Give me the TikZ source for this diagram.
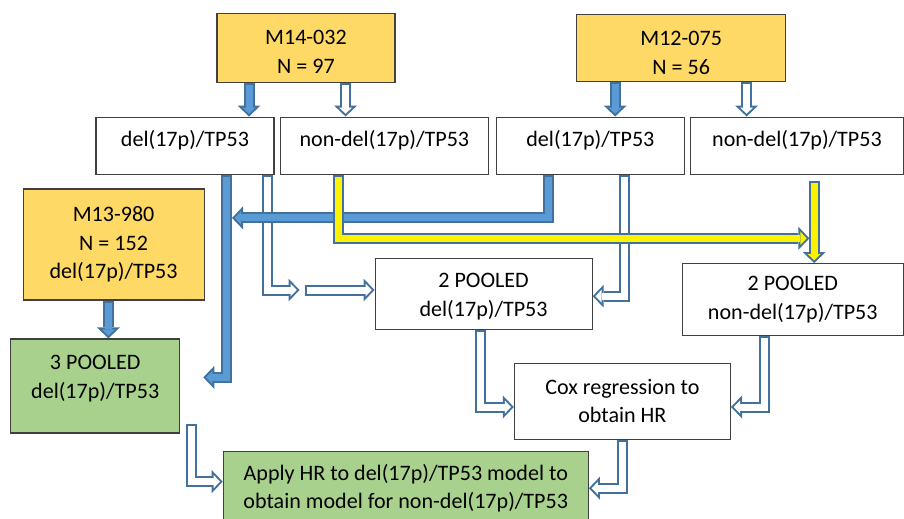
\documentclass[tikz,border=0pt]{standalone}
\usepackage{fontspec}
\setmainfont{Carlito}
\usetikzlibrary{arrows.meta,positioning}

\definecolor{studyfill}{RGB}{255,217,102}
\definecolor{poolfill}{RGB}{169,209,142}
\definecolor{boxline}{RGB}{64,64,64}
\definecolor{arrowedge}{RGB}{65,113,156}
\definecolor{arrowblue}{RGB}{91,155,213}

\begin{document}
\begin{tikzpicture}[on grid, box/.style={rectangle, draw=boxline, line width=0.3mm, inner sep=0pt, align=center, font=\fontsize{15.7}{20.3}\selectfont}, study/.style={box, fill=studyfill}, pooled/.style={box, fill=poolfill}, oneline/.style={box, text depth=3.4mm}, blockarrow/.style={line width=2.75mm, draw=arrowedge, -{Triangle[length=2.75mm, width=5.75mm, line width=0pt]}, postaction={draw=#1, line width=1.75mm, shorten <=0.5mm, shorten >=0.69mm, -{Triangle[length=1.56mm, width=3.26mm, line width=0pt]}}}, solidarrow/.style={blockarrow=arrowblue}, hollowarrow/.style={blockarrow=white}, yellowarrow/.style={blockarrow=yellow}]

  \useasboundingbox (0,0) rectangle (226mm,-129.5mm);

  \node[study, text height=12.75mm, text depth=0mm, minimum width=44.5mm, minimum height=17.25mm] (m14) at (76.5mm,-11.9mm) {M14-032\\N = 97};
  \node[study, text height=13.35mm, text depth=0mm, right=93.8mm of m14, minimum width=52.25mm, minimum height=16.75mm] (m12) {M12-075\\N = 56};

  \node[oneline, below left=24.5mm and 30.25mm of m14, minimum width=44.5mm, minimum height=14.25mm] (delA) {del(17p)/TP53};
  \node[oneline, right=49.85mm of delA, minimum width=52mm, minimum height=14.25mm] (nondelA) {non-del(17p)/TP53};
  \node[oneline, right=51.5mm of nondelA, minimum width=47mm, minimum height=14.25mm] (delB) {del(17p)/TP53};
  \node[oneline, right=51.65mm of delB, minimum width=53.25mm, minimum height=14.25mm] (nondelB) {non-del(17p)/TP53};

  \node[study, below left=24.7mm and 17.85mm of delA, minimum width=45.25mm, minimum height=27.75mm] (m13) {M13-980\\N = 152\\del(17p)/TP53};
  \node[pooled, text height=12mm, text depth=5.9mm, below left=35.4mm and 4.6mm of m13, minimum width=42.25mm, minimum height=23.5mm] (pool3) {3 POOLED\\del(17p)/TP53};

  \node[box, text height=12mm, text depth=0.9mm, below left=37.05mm and 26.7mm of delB, minimum width=54.25mm, minimum height=17.75mm] (pool2d) {2 POOLED\\del(17p)/TP53};
  \node[box, below left=38.5mm and 1.05mm of nondelB, minimum width=55.25mm, minimum height=18mm] (pool2n) {2 POOLED\\non-del(17p)/TP53};
  \node[box, below right=26.85mm and 34.7mm of pool2d, minimum width=54mm, minimum height=19mm] (cox) {Cox regression to\\obtain HR};
  \node[pooled, below left=21.75mm and 54.15mm of cox, minimum width=91.25mm, minimum height=18.25mm] (apply) {Apply HR to del(17p)/TP53 model to\\obtain model for non-del(17p)/TP53};

  % hollow arrows go first, the others cross over them
  \coordinate (splitL) at ([xshift=-18.75mm, yshift=0.95mm]pool2d.west);
  \coordinate (splitR) at ([xshift=-17.3mm, yshift=0.95mm]pool2d.west);
  \draw[hollowarrow] ([xshift=9.9mm]m14.south) -- ([xshift=9.9mm]m14.south |- nondelA.north);
  \draw[hollowarrow] ([xshift=16.35mm]m12.south) -- ([xshift=16.35mm]m12.south |- nondelB.north);
  \draw[hollowarrow] ([xshift=20.6mm]delA.south) |- (splitL);
  \draw[hollowarrow] (splitR) -- ([yshift=0.95mm]pool2d.west);
  \draw[hollowarrow] ([xshift=8.6mm]delB.south) |- ([yshift=-0.6mm]pool2d.east);
  \draw[hollowarrow] ([xshift=-0.7mm]pool2d.south) |- ([yshift=-1.45mm]cox.west);
  \draw[hollowarrow] ([xshift=-7.05mm]pool2n.south) |- ([yshift=-1.45mm]cox.east);
  \draw[hollowarrow] ([xshift=2.9mm, yshift=2.5mm]pool3.south east) |- ([yshift=1.65mm]apply.west);
  \draw[hollowarrow] (cox.south) |- (apply.east);

  % del(17p) arrows
  \draw[solidarrow] ([xshift=-14.25mm]m14.south) -- ([xshift=-14.25mm]m14.south |- delA.north);
  \draw[solidarrow] ([xshift=-16.5mm]m12.south) -- ([xshift=-16.5mm]m12.south |- delB.north);
  \draw[solidarrow] ([xshift=-1.3mm]m13.south) -- ([xshift=-1.3mm]m13.south |- pool3.north);
  \draw[solidarrow] ([xshift=-10.6mm]delB.south) |- ([xshift=11.75mm, yshift=-10.8mm]delA.south);
  \draw[solidarrow] ([xshift=10.4mm]delA.south) |- ([xshift=5.75mm, yshift=2.15mm]pool3.east);

  % non-del(17p) arrows
  \draw[yellowarrow] ([xshift=-11.6mm]nondelA.south) |- ([xshift=3.1mm, yshift=-15.9mm]nondelB.south);
  \draw[yellowarrow] ([xshift=4.3mm, yshift=-1.5mm]nondelB.south) -- ([xshift=4.3mm]nondelB.south |- pool2n.north);

\end{tikzpicture}
\end{document}
